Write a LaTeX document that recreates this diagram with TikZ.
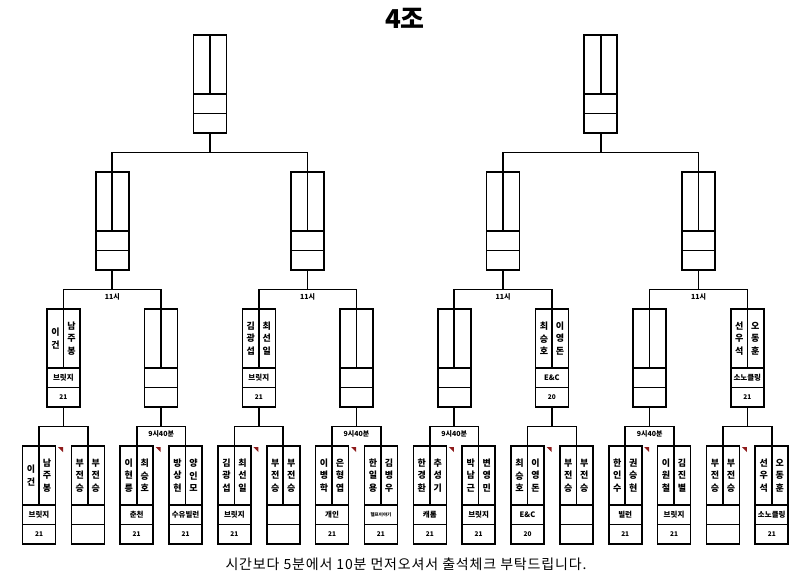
\documentclass[tikz,border=0pt]{standalone}
\usepackage{fontspec}
\setmainfont{Noto Sans CJK KR}
\usetikzlibrary{positioning}
\definecolor{memored}{HTML}{8E1B1B}
\tikzset{
  cell/.style={draw, line width=1.6pt, minimum width=33pt, inner sep=0pt, outer sep=0pt},
  namecell/.style={cell, minimum height=59pt},
  teamcell/.style={cell, minimum height=19.5pt, font=\fontsize{7.5}{8}\selectfont\bfseries},
  scorecell/.style={cell, minimum height=19.5pt, font=\fontsize{6.5}{7}\selectfont\bfseries},
  player/.style={font=\fontsize{9}{12.5}\selectfont\bfseries, align=center, inner sep=0pt},
  wire/.style={line width=1.6pt},
  timelabel/.style={font=\fontsize{7}{8}\selectfont\bfseries, inner sep=0pt},
  memo/.style={fill=memored}
}
% \matchbox{id}{x}{top}{name1}{name2}{team}{score}
\newcommand{\matchbox}[7]{%
  \node[namecell, anchor=north] (#1-up) at (#2,#3) {};
  \node[teamcell, below=0pt of #1-up] (#1-team) {#6};
  \node[scorecell, below=0pt of #1-team] (#1-score) {#7};
  \node[player] (#1-na) at ([xshift=-8pt]#1-up.center) {#4};
  \node[player] (#1-nb) at ([xshift=8pt]#1-up.center) {#5};
}
% \bracket{parent}{left child}{right child}
\newcommand{\bracket}[3]{%
  \coordinate (#1-bar) at ([yshift=-19.5pt]#1-score.south);
  \draw[wire] (#1-score.south) -- (#1-bar);
  \draw[wire] (#2-up.south) |- (#1-bar) -| (#3-up.south);
}
\begin{document}
\begin{tikzpicture}[x=1pt, y=-1pt]
  \useasboundingbox (0,0) rectangle (800,585);
  \node[font=\fontsize{26}{28}\selectfont\bfseries] (title) at (405,18) {4조};
  % first round
  \foreach \na/\nb/\team/\score [count=\k from 0] in {
      이\\건/남\\주\\봉/브릿지/21, 부\\전\\승/부\\전\\승/{}/{},
      이\\현\\릉/최\\승\\호/춘천/21, 방\\상\\현/양\\인\\모/수유빌런/21,
      김\\광\\섭/최\\선\\일/브릿지/21, 부\\전\\승/부\\전\\승/{}/{},
      이\\병\\학/은\\형\\엽/개인/21, 한\\일\\용/김\\병\\우/{\fontsize{4.5}{5}\selectfont 헬프이야기}/21,
      한\\경\\환/추\\성\\기/캐롬/21, 박\\남\\근/변\\영\\민/브릿지/21,
      최\\승\\호/이\\영\\돈/E\&C/20, 부\\전\\승/부\\전\\승/{}/{},
      한\\인\\수/권\\승\\현/빌런/21, 이\\원\\철/김\\진\\별/브릿지/21,
      부\\전\\승/부\\전\\승/{}/{}, 선\\우\\석/오\\동\\훈/소노클링/21} {
    \pgfmathsetmacro\bx{39+48.85*\k}
    \matchbox{a\k}{\bx}{446}{\na}{\nb}{\team}{\score}
  }
  % second round
  \foreach \na/\nb/\team/\score [count=\k from 0] in {
      이\\건/남\\주\\봉/브릿지/21, {}/{}/{}/{},
      김\\광\\섭/최\\선\\일/브릿지/21, {}/{}/{}/{},
      {}/{}/{}/{}, 최\\승\\호/이\\영\\돈/E\&C/20,
      {}/{}/{}/{}, 선\\우\\석/오\\동\\훈/소노클링/21} {
    \pgfmathsetmacro\bx{39+48.85*(2*\k+0.5)}
    \matchbox{b\k}{\bx}{309}{\na}{\nb}{\team}{\score}
  }
  % third and fourth round
  \foreach \k in {0,...,3} {
    \pgfmathsetmacro\bx{39+48.85*(4*\k+1.5)}
    \matchbox{c\k}{\bx}{172}{}{}{}{}
  }
  \foreach \k in {0,1} {
    \pgfmathsetmacro\bx{39+48.85*(8*\k+3.5)}
    \matchbox{d\k}{\bx}{35}{}{}{}{}
    \draw[wire] (d\k-up.north) -- (d\k-up.south);
  }
  % connectors
  \foreach \j in {0,...,7} {
    \pgfmathtruncatemacro\ia{2*\j}
    \pgfmathtruncatemacro\ib{2*\j+1}
    \bracket{b\j}{a\ia}{a\ib}
    \fill[memo] ([xshift=2.5pt,yshift=-1pt]a\ia-up.north east) -- ++(5,0) -- ++(0,5) -- cycle;
  }
  \foreach \j in {0,...,3} {
    \pgfmathtruncatemacro\ia{2*\j}
    \pgfmathtruncatemacro\ib{2*\j+1}
    \bracket{c\j}{b\ia}{b\ib}
    \node[timelabel, below=4pt of c\j-bar] (c\j-time) {11시};
  }
  \foreach \j in {0,1} {
    \pgfmathtruncatemacro\ia{2*\j}
    \pgfmathtruncatemacro\ib{2*\j+1}
    \bracket{d\j}{c\ia}{c\ib}
  }
  \foreach \j in {1,3,4,6}
    \node[timelabel, below=4pt of b\j-bar] (b\j-time) {9시40분};
  \node[font=\fontsize{14}{15}\selectfont\addfontfeature{LetterSpace=6}] (note) at (406,564)
    {시간보다 5분에서 10분 먼저오셔서 출석체크 부탁드립니다.};
\end{tikzpicture}
\end{document}
